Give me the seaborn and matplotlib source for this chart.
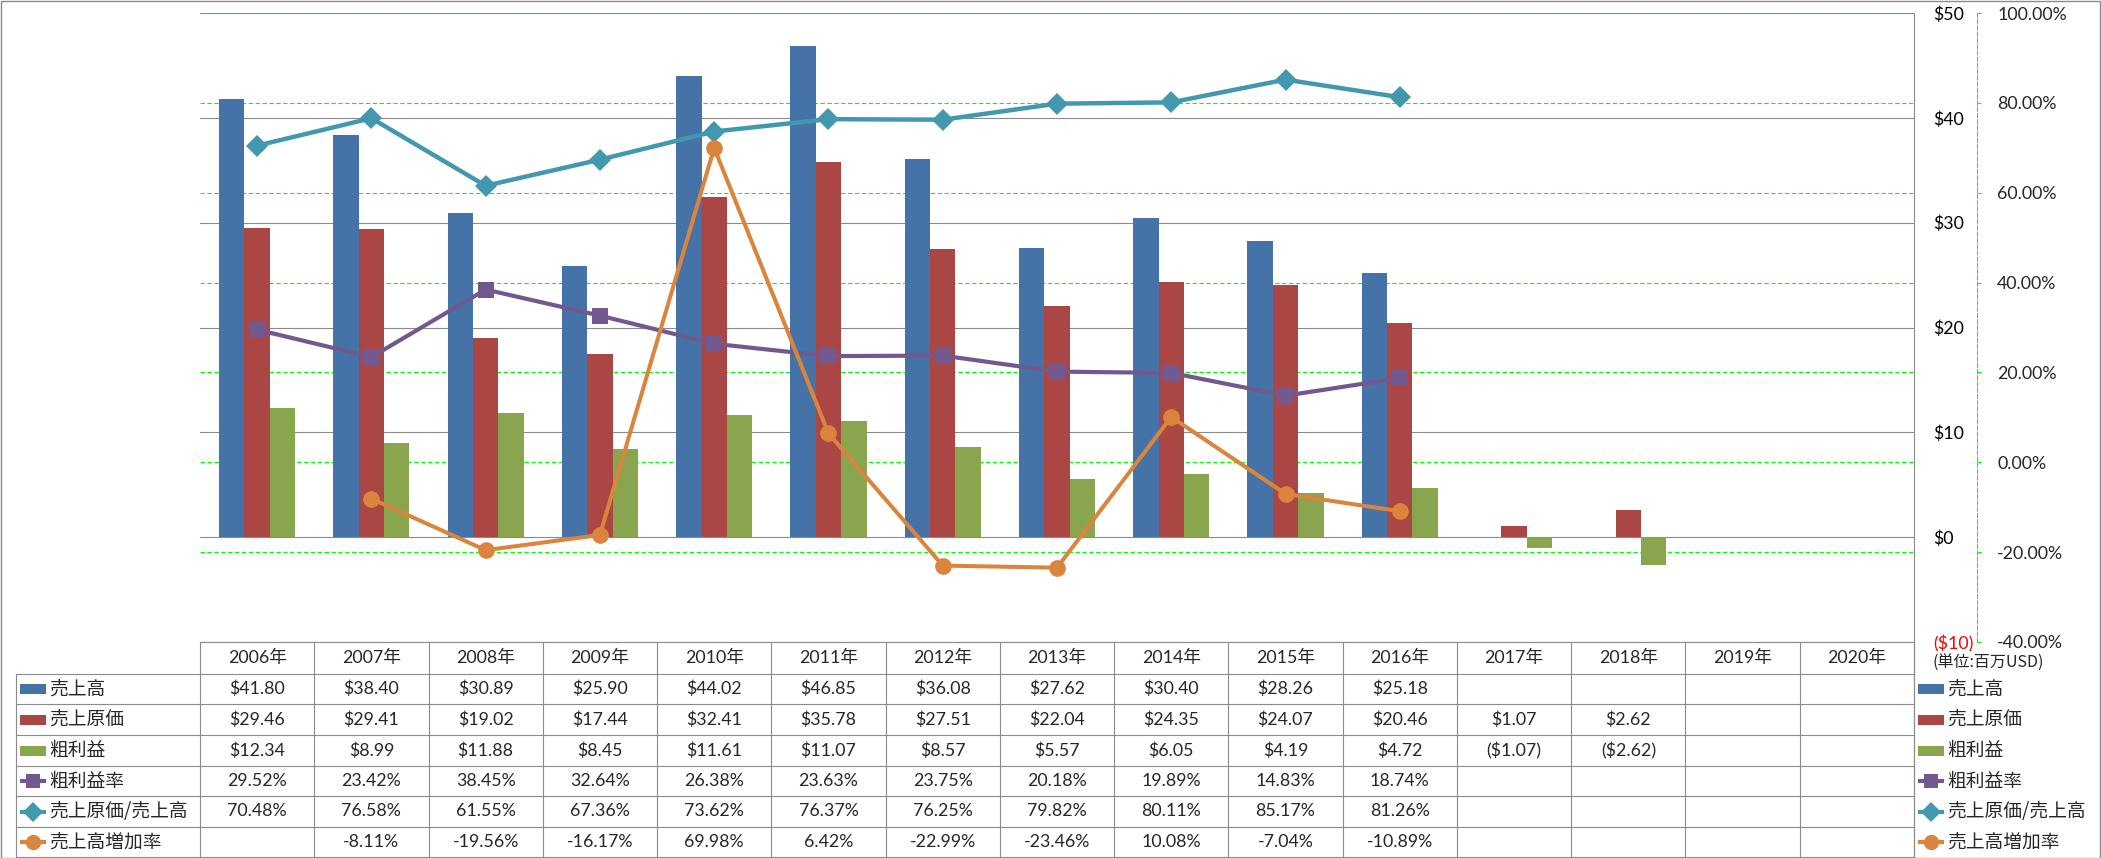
import numpy as np
import pandas as pd
import matplotlib
matplotlib.use("Agg")
import matplotlib.pyplot as plt
import seaborn as sns
from matplotlib.lines import Line2D
from matplotlib.patches import Rectangle

nan = np.nan
# ---------------- data ----------------
years = ["2006年", "2007年", "2008年", "2009年", "2010年", "2011年", "2012年", "2013年",
         "2014年", "2015年", "2016年", "2017年", "2018年", "2019年", "2020年"]
sales = [41.80, 38.40, 30.89, 25.90, 44.02, 46.85, 36.08, 27.62, 30.40, 28.26, 25.18,
         nan, nan, nan, nan]
cogs = [29.46, 29.41, 19.02, 17.44, 32.41, 35.78, 27.51, 22.04, 24.35, 24.07, 20.46,
        1.07, 2.62, nan, nan]
gross = [12.34, 8.99, 11.88, 8.45, 11.61, 11.07, 8.57, 5.57, 6.05, 4.19, 4.72,
         -1.07, -2.62, nan, nan]
gm_rate = [29.52, 23.42, 38.45, 32.64, 26.38, 23.63, 23.75, 20.18, 19.89, 14.83, 18.74,
           nan, nan, nan, nan]
cogs_ratio = [70.48, 76.58, 61.55, 67.36, 73.62, 76.37, 76.25, 79.82, 80.11, 85.17, 81.26,
              nan, nan, nan, nan]
growth = [nan, -8.11, -19.56, -16.17, 69.98, 6.42, -22.99, -23.46, 10.08, -7.04, -10.89,
          nan, nan, nan, nan]

bar_names = ["売上高", "売上原価", "粗利益"]
line_names = ["粗利益率", "売上原価/売上高", "売上高増加率"]
money_ticks = [-10, 0, 10, 20, 30, 40, 50]
pct_ticks = [-40, -20, 0, 20, 40, 60, 80, 100]
unit_label = "(単位:百万USD)"

# ---------------- style ----------------
bar_colors = ["#4572A7", "#AA4643", "#89A54E"]
line_colors = ["#71588F", "#4198AF", "#DB843D"]
line_markers = ["s", "D", "o"]
line_ms = [11.5, 11.5, 12.0]
line_lw = [3.0, 3.2, 2.9]
GRID_GREY = "#8a8a8a"
GREEN = "#00FF00"
NUM_FONT = ["Lato", "Noto Sans CJK JP", "DejaVu Sans"]
CJK_FONT = ["Noto Sans CJK JP", "DejaVu Sans"]

sns.set_theme(style="white")
plt.rcParams["font.family"] = NUM_FONT

W, H, DPI = 2101, 858, 100
fig = plt.figure(figsize=(W / DPI, H / DPI), dpi=DPI)
fig.patch.set_facecolor("white")


def fx(px):
    return px / W


def fy(py):
    return 1 - py / H


X0, X1, Y0, Y1 = 200, 1914, 13, 642
ax_pct = fig.add_axes([fx(X0), fy(Y1), fx(X1) - fx(X0), fy(Y0) - fy(Y1)])
ax_bar = ax_pct.twinx()
ax_line = ax_pct.twinx()

# ---------------- bars ----------------
rows = []
for name, vals in zip(bar_names, [sales, cogs, gross]):
    for y, v in zip(years, vals):
        if not np.isnan(v):
            rows.append({"year": y, "series": name, "value": v})
df_bar = pd.DataFrame(rows)
sns.barplot(data=df_bar, x="year", y="value", hue="series", order=years,
            hue_order=bar_names, palette=bar_colors, width=2 / 3, saturation=1,
            errorbar=None, linewidth=0, ax=ax_bar, legend=False)

# ---------------- lines ----------------
xpos = np.arange(len(years))
df_line = pd.DataFrame({"x": xpos, line_names[0]: gm_rate,
                        line_names[1]: cogs_ratio, line_names[2]: growth})
for name, c, m, ms, lw in zip(line_names, line_colors, line_markers, line_ms, line_lw):
    sub = df_line[["x", name]].dropna()
    sns.lineplot(data=sub, x="x", y=name, ax=ax_line, color=c, marker=m,
                 markersize=ms, linewidth=lw, markeredgewidth=0, legend=False)

# ---------------- axes formatting ----------------
for a in (ax_pct, ax_bar, ax_line):
    a.set_xlim(-0.5, len(years) - 0.5)
    a.set_xlabel("")
    a.set_ylabel("")
    a.tick_params(axis="x", bottom=False, top=False, labelbottom=False, labeltop=False)
    for s in ("top", "left", "bottom"):
        a.spines[s].set_visible(False)

# percent axis (green dashed spine, outward)
ax_pct.set_ylim(pct_ticks[0], pct_ticks[-1])
ax_pct.yaxis.tick_right()
ax_pct.set_yticks(pct_ticks, labels=[f"{p:.2f}%" for p in pct_ticks])
ax_pct.tick_params(axis="y", right=True, left=False, labelright=True, labelleft=False,
                   length=3, width=0.75, color=GREEN, direction="out", pad=11.5,
                   labelsize=12.8)
for lbl, p in zip(ax_pct.get_yticklabels(), pct_ticks):
    lbl.set_color("red" if p < 0 else "black")
sp = ax_pct.spines["right"]
sp.set_position(("outward", 45.4))
sp.set_color(GREEN)
sp.set_linewidth(0.75)
sp.set_linestyle((0, (4, 2)))
for p in pct_ticks[1:]:
    ax_pct.axhline(p, color=GREEN, lw=0.8, ls=(0, (4, 2.2)), zorder=0.5)

# money axis
ax_bar.set_ylim(money_ticks[0], money_ticks[-1])
ax_bar.set_yticks(money_ticks,
                  labels=[(f"(${abs(v)})" if v < 0 else f"${v}") for v in money_ticks])
ax_bar.tick_params(axis="y", right=True, left=False, labelright=True, labelleft=False,
                   length=0, pad=13.7, labelsize=12.8)
for lbl, v in zip(ax_bar.get_yticklabels(), money_ticks):
    lbl.set_color("red" if v < 0 else "black")
ax_bar.set_axisbelow(True)
ax_bar.yaxis.grid(True, color=GRID_GREY, lw=0.8)
ax_bar.spines["right"].set_visible(False)

ax_line.set_ylim(pct_ticks[0], pct_ticks[-1])
ax_line.set_yticks([])
ax_line.spines["right"].set_visible(False)


# ---------------- data table ----------------
def hline(x0, x1, y, **kw):
    fig.add_artist(Line2D([fx(x0), fx(x1)], [fy(y), fy(y)], color=GRID_GREY, lw=0.8, **kw))


def vline(x, y0, y1, **kw):
    fig.add_artist(Line2D([fx(x), fx(x)], [fy(y0), fy(y1)], color=GRID_GREY, lw=0.8, **kw))


n = len(years)
col_w = (X1 - X0) / n
col_edges = [X0 + col_w * i for i in range(n + 1)]
row_edges = [642, 674, 704, 735, 766, 796, 827, 857]
LBL_X0 = 16

hline(X0, X1, row_edges[0])
for y in row_edges[1:]:
    hline(LBL_X0, X1, y)
for x in col_edges:
    vline(x, row_edges[0], row_edges[-1])
vline(LBL_X0, row_edges[1], row_edges[-1])
vline(X1, Y0, row_edges[-1])

row_c = [(row_edges[i] + row_edges[i + 1]) / 2 for i in range(len(row_edges) - 1)]
col_c = [(col_edges[i] + col_edges[i + 1]) / 2 for i in range(n)]

for yr, xc in zip(years, col_c):
    fig.text(fx(xc), fy(row_c[0]), yr, ha="center", va="center", fontsize=12.8,
             family=NUM_FONT)


def fmt_money(v):
    if np.isnan(v):
        return ""
    return f"(${abs(v):.2f})" if v < 0 else f"${v:.2f}"


def fmt_pct(v):
    return "" if np.isnan(v) else f"{v:.2f}%"


table_rows = [(sales, fmt_money), (cogs, fmt_money), (gross, fmt_money),
              (gm_rate, fmt_pct), (cogs_ratio, fmt_pct), (growth, fmt_pct)]
for r, (vals, f) in enumerate(table_rows):
    for xc, v in zip(col_c, vals):
        s = f(v)
        if s:
            fig.text(fx(xc), fy(row_c[r + 1]), s, ha="center", va="center",
                     fontsize=12.8, family=NUM_FONT)


def draw_handle(x0, x1, yc, kind, color, marker=None, ms=None):
    if kind == "bar":
        fig.add_artist(Rectangle((fx(x0), fy(yc + 5)), fx(x1) - fx(x0), fy(yc - 5) - fy(yc + 5),
                                 facecolor=color, edgecolor="none"))
    else:
        fig.add_artist(Line2D([fx(x0), fx(x1)], [fy(yc), fy(yc)], color=color, lw=3.0,
                              solid_capstyle="butt"))
        fig.add_artist(Line2D([fx((x0 + x1) / 2)], [fy(yc)], color=color, marker=marker,
                              markersize=ms, markeredgewidth=0, lw=0))


all_names = bar_names + line_names
all_kinds = ["bar"] * 3 + ["line"] * 3
all_colors = bar_colors + line_colors
all_markers = [None] * 3 + line_markers
all_ms = [None] * 3 + [10.5, 10.5, 11]
for i in range(6):
    yc = row_c[i + 1]
    # left label column
    draw_handle(20, 46, yc, all_kinds[i], all_colors[i], all_markers[i], all_ms[i])
    fig.text(fx(49), fy(yc), all_names[i], ha="left", va="center", fontsize=13.5,
             family=CJK_FONT)
    # right legend
    draw_handle(1918, 1944, yc, all_kinds[i], all_colors[i], all_markers[i], all_ms[i])
    fig.text(fx(1947), fy(yc), all_names[i], ha="left", va="center", fontsize=13.5,
             family=CJK_FONT)

fig.text(fx(1932), fy(663), unit_label, ha="left", va="center", fontsize=11.5,
         family=CJK_FONT)

# outer frame
fig.add_artist(Rectangle((fx(0.5), fy(857.5)), fx(2100) - fx(0.5), fy(0.5) - fy(857.5),
                         facecolor="none", edgecolor=GRID_GREY, lw=1.0))

fig.savefig("out.png", dpi=DPI, facecolor="white")
